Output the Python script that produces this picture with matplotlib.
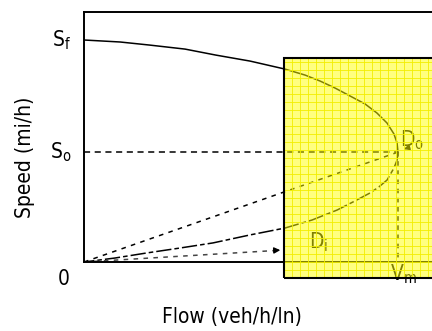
import numpy as np
import matplotlib
matplotlib.use('Agg')
import matplotlib.pyplot as plt
from matplotlib.patches import Rectangle

plt.rcParams['font.family'] = ['DejaVu Sans']
plt.rcParams['font.stretch'] = 'condensed'
plt.rcParams['mathtext.default'] = 'regular'

# speed-flow curve (flow scaled so V_m = 1, speed scaled so S_f = 1)
flow_upper  = [0.0, 0.115, 0.21, 0.322, 0.42, 0.529, 0.64, 0.704, 0.752, 0.799, 0.847,
               0.895, 0.933, 0.965, 0.987, 0.997, 1.0]
speed_upper = [1.0, 0.991, 0.977, 0.959, 0.932, 0.905, 0.869, 0.842, 0.815, 0.784, 0.748,
               0.712, 0.671, 0.626, 0.577, 0.536, 0.495]
flow_lower  = [1.0, 0.997, 0.987, 0.965, 0.939, 0.911, 0.863, 0.806, 0.726, 0.64, 0.529,
               0.411, 0.306, 0.201, 0.099, 0.0]
speed_lower = [0.495, 0.459, 0.423, 0.369, 0.338, 0.311, 0.275, 0.234, 0.189, 0.153, 0.122,
               0.086, 0.063, 0.041, 0.018, 0.0]
S_f = 1.0
S_o = 0.495
V_m = 1.0
D_o = (1.0, 0.495)
D_i = (0.634, 0.054)

# yellow zoom box
box_x0, box_y0, box_y1 = 0.637, -0.072, 0.919

fig = plt.figure(figsize=(4.32, 3.31), dpi=100)
ax = fig.add_axes([84/432, 1-262/331, 1-84/432, 250/331])
ax.set_xlim(0, 348/314)
ax.set_ylim(0, 250/222)

ax.plot(flow_upper, speed_upper, color='black', lw=1.1, zorder=2)
ax.plot(flow_lower, speed_lower, color='black', lw=1.1, dashes=(10, 2, 3, 2), zorder=2)
ax.plot([0, V_m], [S_o, S_o], color='black', lw=1.1, dashes=(4, 3), zorder=2)
ax.plot([V_m, V_m], [S_o, 0.02], color='black', lw=1.1, dashes=(3, 3), zorder=2)
ax.plot([0, D_o[0]], [0, D_o[1]], color='black', lw=1.1, dashes=(3, 3.5), zorder=2)
ax.plot([0, D_i[0] - 0.01], [0, D_i[1] - 0.001], color='#444444', lw=1.1, dashes=(3, 3.5), zorder=2)
ax.annotate('', xy=D_i, xytext=(D_i[0] - 0.03, D_i[1] - 0.002),
            arrowprops=dict(arrowstyle='-|>', color='black', lw=1, mutation_scale=9), zorder=2)
ax.annotate('', xy=(1.01, 0.505), xytext=(1.045, 0.52),
            arrowprops=dict(arrowstyle='-|>', color='black', lw=1, mutation_scale=8), zorder=2)

ax.text(1.005, 0.52, 'D$_o$', fontsize=15, ha='left', va='baseline', zorder=2)
ax.text(0.715, 0.06, 'D$_i$', fontsize=15, ha='left', va='baseline', zorder=2)
ax.text(0.975, -0.085, 'V$_m$', fontsize=15, ha='left', va='baseline', zorder=2, clip_on=False)

# overlay box with grid
ax.add_patch(Rectangle((box_x0, box_y0), 0.6, box_y1 - box_y0, facecolor='yellow',
                       alpha=0.5, edgecolor='none', zorder=5, clip_on=False))
for gx in np.arange(box_x0, 1.2, 8/314):
    ax.plot([gx, gx], [box_y0, box_y1], color='#f2ee00', lw=0.6, zorder=6, clip_on=False)
for gy in np.arange(box_y0, box_y1, 8/222):
    ax.plot([box_x0, 1.2], [gy, gy], color='#f2ee00', lw=0.6, zorder=6, clip_on=False)
ax.add_patch(Rectangle((box_x0, box_y0), 0.6, box_y1 - box_y0, facecolor='none',
                       edgecolor='black', lw=1.5, zorder=7, clip_on=False))

for s in ['left', 'top', 'bottom']:
    ax.spines[s].set_linewidth(1.4)
ax.spines['right'].set_visible(False)
ax.set_xticks([])
ax.set_yticks([])

ax.text(-0.04, S_f, 'S$_f$', fontsize=15, ha='right', va='center')
ax.text(-0.04, S_o, 'S$_o$', fontsize=15, ha='right', va='center')
ax.text(-0.045, -0.075, '0', fontsize=15, ha='right', va='center', clip_on=False)

fig.text(232/432, 1-317/331, 'Flow (veh/h/ln)', fontsize=15, ha='center', va='center')
fig.text(25/432, 1-157/331, 'Speed (mi/h)', fontsize=15, ha='center', va='center', rotation=90)

fig.savefig('out.png', dpi=100)
